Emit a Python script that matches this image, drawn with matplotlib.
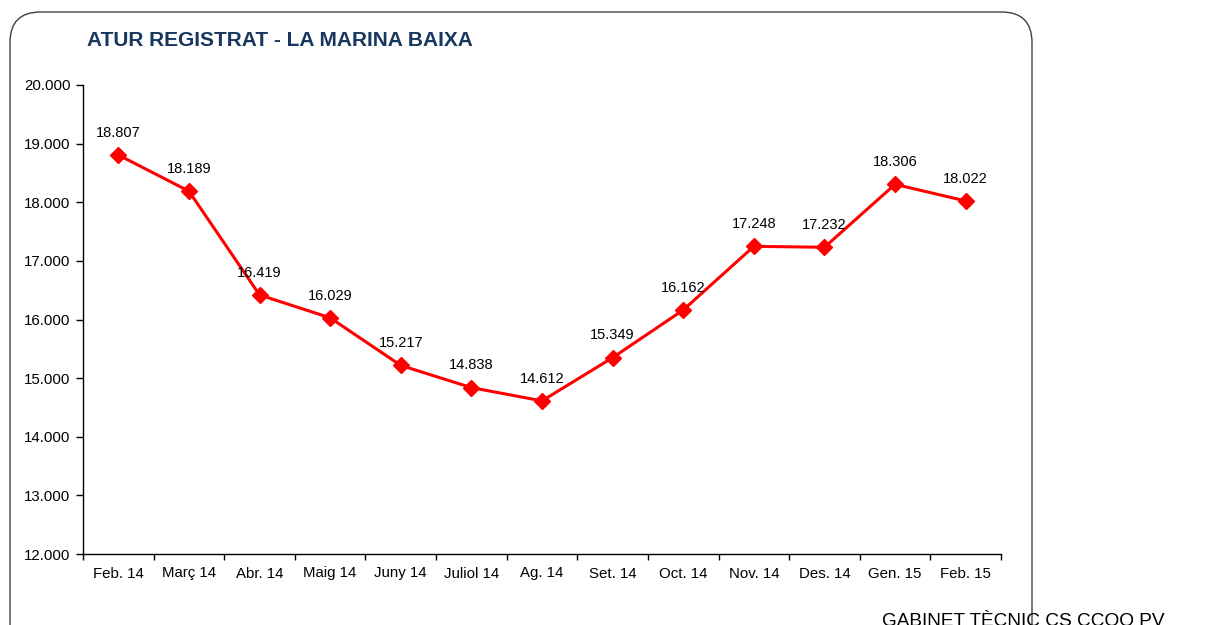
import matplotlib
matplotlib.use("Agg")
import matplotlib.pyplot as plt
from matplotlib.patches import FancyBboxPatch
from matplotlib.ticker import FixedLocator, FuncFormatter

categories = ["Feb. 14", "Març 14", "Abr. 14", "Maig 14", "Juny 14", "Juliol 14", "Ag. 14",
              "Set. 14", "Oct. 14", "Nov. 14", "Des. 14", "Gen. 15", "Feb. 15"]
values = [18807, 18189, 16419, 16029, 15217, 14838, 14612, 15349, 16162, 17248, 17232, 18306, 18022]
yticks = [12000, 13000, 14000, 15000, 16000, 17000, 18000, 19000, 20000]

plt.rcParams['font.family'] = ['Liberation Sans', 'DejaVu Sans']

W, H = 1220, 625
fig = plt.figure(figsize=(W / 100, H / 100), dpi=100)

# rounded border
border = FancyBboxPatch((10 / W, -0.2), (1032 - 10) / W, (H - 12) / H + 0.2,
                        boxstyle="round,pad=0,rounding_size=0.025",
                        transform=fig.transFigure, fill=False, edgecolor="#404040",
                        linewidth=1.0, mutation_aspect=W / H)
fig.patches.append(border)

ax = fig.add_axes([83 / W, (H - 554) / H, (1001 - 83) / W, (554 - 85) / H])

def fmt(v):
    return f"{int(v):,}".replace(",", ".")

x = list(range(len(categories)))
ax.plot(x, values, color="#FF0000", linewidth=2.2, marker="D", markersize=8,
        markerfacecolor="#FF0000", markeredgecolor="#FF0000", zorder=3)
for xi, v in zip(x, values):
    ax.annotate(fmt(v), (xi, v), xytext=(0, 16), textcoords="offset points",
                ha="center", va="center", fontsize=10.5, color="black")

ax.set_xlim(-0.5, len(categories) - 0.5)
ax.set_ylim(12000, 20000)
ax.set_yticks(yticks)
ax.yaxis.set_major_formatter(FuncFormatter(lambda v, p: fmt(v)))
ax.set_xticks(x)
ax.set_xticklabels(categories)
ax.xaxis.set_minor_locator(FixedLocator([i - 0.5 for i in range(len(categories) + 1)]))
ax.tick_params(axis="x", which="major", length=0, pad=9, labelsize=10.8)
ax.tick_params(axis="x", which="minor", length=4, direction="out", width=1)
ax.tick_params(axis="y", which="major", length=5, direction="out", width=1, labelsize=10.8, pad=4)
for s in ["top", "right"]:
    ax.spines[s].set_visible(False)
for s in ["left", "bottom"]:
    ax.spines[s].set_linewidth(1)
    ax.spines[s].set_color("black")

fig.text(87 / W, 1 - 40 / H, "ATUR REGISTRAT - LA MARINA BAIXA", fontsize=15, fontweight="bold",
         color="#17375E", ha="left", va="center")
fig.text(882 / W, 1 - 626 / H, "GABINET TÈCNIC CS CCOO PV", fontsize=13.7, color="black",
         ha="left", va="baseline")

fig.savefig("out.png", dpi=100)
